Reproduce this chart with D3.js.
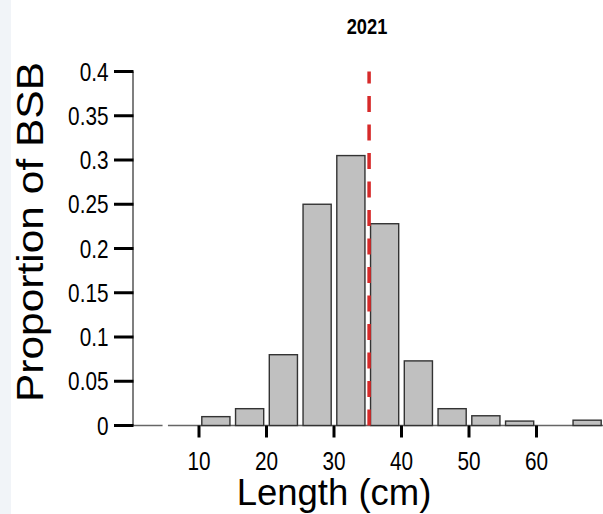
<!DOCTYPE html>
<html>
<head>
<meta charset="utf-8">
<script src="https://d3js.org/d3.v7.min.js"></script>
<style>
  body { margin: 0; background: #fff; }
  svg { display: block; font-family: Arial, "Liberation Sans", sans-serif; }
</style>
</head>
<body>
<div id="chart"></div>
<script>
  // length bins (cm, left edge of each 5 cm bin) and proportion of fish in each
  const binStart = [10, 15, 20, 25, 30, 35, 40, 45, 50, 55, 60, 65];
  const proportion = [0.010, 0.019, 0.080, 0.250, 0.305, 0.228, 0.073, 0.019, 0.011, 0.005, 0, 0.006];
  const binWidth = 5;
  const meanLength = 35.2;
  const xTicks = [10, 20, 30, 40, 50, 60];
  const yTicks = [0, 0.05, 0.1, 0.15, 0.2, 0.25, 0.3, 0.35, 0.4];
  const title = '2021';

  const width = 603, height = 514;
  // the source image is a little squeezed sideways, so text is narrowed to match
  const squeeze = 0.83;

  const svg = d3.select('#chart').append('svg')
    .attr('width', width)
    .attr('height', height);

  // pale strip down the left edge, as in the screenshot
  svg.append('rect')
    .attr('x', 0).attr('y', 0)
    .attr('width', 11).attr('height', height)
    .style('fill', '#f1f4f8');

  const x = d3.scaleLinear().domain([0, 70]).range([131.5, 604]);
  const y = d3.scaleLinear().domain([0, 0.4]).range([425.5, 71.5]);

  const bins = binStart.map((b, i) => ({start: b, value: proportion[i]}))
    .filter(d => d.value > 0);

  // baseline (with the small break seen near 5 cm)
  svg.append('line')
    .attr('x1', x(0)).attr('x2', x(4.6))
    .attr('y1', y(0)).attr('y2', y(0))
    .style('stroke', '#666').style('stroke-width', 1.5);
  svg.append('line')
    .attr('x1', x(5.4)).attr('x2', x(70))
    .attr('y1', y(0)).attr('y2', y(0))
    .style('stroke', '#666').style('stroke-width', 1.5);

  // bars
  const inset = 2.8;
  svg.selectAll('rect.bar')
    .data(bins)
    .enter()
    .append('rect')
    .attr('class', 'bar')
    .attr('x', d => x(d.start) + inset)
    .attr('width', d => x(d.start + binWidth) - x(d.start) - 2 * inset)
    .attr('y', d => y(d.value))
    .attr('height', d => y(0) - y(d.value))
    .style('fill', '#c0c0c0')
    .style('stroke', '#333')
    .style('stroke-width', 1.4);

  // mean length line
  svg.append('line')
    .attr('x1', x(meanLength)).attr('x2', x(meanLength))
    .attr('y1', y(0)).attr('y2', y(0.4))
    .style('stroke', '#d62a2a')
    .style('stroke-width', 3.5)
    .style('stroke-dasharray', '16,12.5');

  // y axis
  svg.append('line')
    .attr('x1', x(0) + 1.5).attr('x2', x(0) + 1.5)
    .attr('y1', y(0.4)).attr('y2', y(0))
    .style('stroke', '#555').style('stroke-width', 1.5);

  const yAxis = svg.append('g');
  yAxis.selectAll('line')
    .data(yTicks)
    .enter()
    .append('line')
    .attr('x1', 114).attr('x2', x(0) + 2)
    .attr('y1', d => y(d)).attr('y2', d => y(d))
    .style('stroke', '#000').style('stroke-width', 3);
  yAxis.selectAll('text')
    .data(yTicks)
    .enter()
    .append('text')
    .attr('transform', d => `translate(108.5,${y(d)}) scale(${squeeze},1)`)
    .attr('dy', '0.36em')
    .style('text-anchor', 'end')
    .style('font-size', '25px')
    .text(d => String(d));

  // x axis ticks
  const xAxis = svg.append('g');
  xAxis.selectAll('line')
    .data(xTicks)
    .enter()
    .append('line')
    .attr('x1', d => x(d)).attr('x2', d => x(d))
    .attr('y1', y(0)).attr('y2', y(0) + 12)
    .style('stroke', '#000').style('stroke-width', 3);
  xAxis.selectAll('text')
    .data(xTicks)
    .enter()
    .append('text')
    .attr('transform', d => `translate(${x(d)},470) scale(${squeeze},1)`)
    .style('text-anchor', 'middle')
    .style('font-size', '25px')
    .text(d => d);

  // titles
  svg.append('text')
    .attr('x', 334)
    .attr('y', 505)
    .style('text-anchor', 'middle')
    .style('font-size', '36.5px')
    .text('Length (cm)');

  svg.append('text')
    .attr('transform', 'translate(43,232) rotate(-90) scale(1,0.88)')
    .style('text-anchor', 'middle')
    .style('font-size', '42.5px')
    .text('Proportion of BSB');

  svg.append('text')
    .attr('transform', `translate(367,34) scale(${squeeze},1)`)
    .style('text-anchor', 'middle')
    .style('font-size', '22px')
    .style('font-weight', 'bold')
    .text(title);
</script>
</body>
</html>
